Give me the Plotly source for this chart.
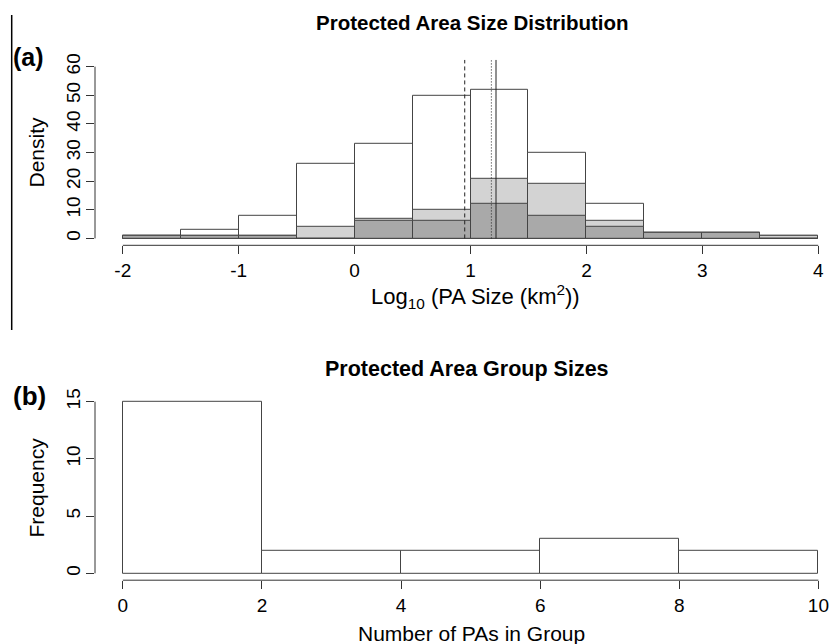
import plotly.graph_objects as go

W, H = 829, 644

# ---- Panel (a) data: PA size distribution (log10 km^2), bin width 0.5 ----
bin_left_a = [-2.0, -1.5, -1.0, -0.5, 0.0, 0.5, 1.0, 1.5, 2.0, 2.5, 3.0, 3.5]
bin_width_a = 0.5
total_a = [1, 3, 8, 26, 33, 50, 52, 30, 12, 2, 2, 1]
light_a = [1, 1, 1, 4, 7, 10, 21, 19, 6, 2, 2, 1]
dark_a = [1, 1, 1, 0, 6, 6, 12, 8, 4, 2, 2, 0]
ref_values = [0.95, 1.18, 1.22]
ref_dashes = ["4px,3px", "1px,2px", "solid"]
xticks_a = [-2, -1, 0, 1, 2, 3, 4]
yticks_a = [0, 10, 20, 30, 40, 50, 60]

# ---- Panel (b) data: PA group sizes ----
bin_left_b = [0, 2, 4, 6, 8]
bin_width_b = 2
freq_b = [15, 2, 2, 3, 2]
xticks_b = [0, 2, 4, 6, 8, 10]
yticks_b = [0, 5, 10, 15]

FONT = "Liberation Sans, Arial, Helvetica, sans-serif"
EDGE = "#444444"
AX = "#333333"

fig = go.Figure()

def centers(lefts, w):
    return [l + w / 2 for l in lefts]

for vals, col in [(total_a, "white"), (light_a, "#d3d3d3"), (dark_a, "#a9a9a9")]:
    fig.add_trace(go.Bar(
        x=centers(bin_left_a, bin_width_a), y=vals, width=bin_width_a,
        marker=dict(color=col, line=dict(color=EDGE, width=1)),
        xaxis="x", yaxis="y", showlegend=False, hoverinfo="skip"))

fig.add_trace(go.Bar(
    x=centers(bin_left_b, bin_width_b), y=freq_b, width=bin_width_b,
    marker=dict(color="white", line=dict(color=EDGE, width=1)),
    xaxis="x2", yaxis="y2", showlegend=False, hoverinfo="skip"))

ya_top = 62.4
for v, d in zip(ref_values, ref_dashes):
    fig.add_shape(type="line", xref="x", yref="y", x0=v, x1=v, y0=0, y1=ya_top,
                  line=dict(color="#222222", width=1, dash=d))

# R-style detached axis lines
fig.add_shape(type="line", xref="x", yref="y domain", x0=min(xticks_a), x1=max(xticks_a),
              y0=0, y1=0, line=dict(color=AX, width=1))
fig.add_shape(type="line", xref="x domain", yref="y", x0=0, x1=0,
              y0=min(yticks_a), y1=max(yticks_a), line=dict(color=AX, width=1))
fig.add_shape(type="line", xref="x2", yref="y2 domain", x0=min(xticks_b), x1=max(xticks_b),
              y0=0, y1=0, line=dict(color=AX, width=1))
fig.add_shape(type="line", xref="x2 domain", yref="y2", x0=0, x1=0,
              y0=min(yticks_b), y1=max(yticks_b), line=dict(color=AX, width=1))

# left border line of the figure panel
fig.add_shape(type="line", xref="paper", yref="paper", x0=11.7 / W, x1=11.7 / W,
              y0=1 - 330 / H, y1=1 - 15 / H, line=dict(color="black", width=1.5))

def px(x):
    return x / W

def py(y):
    return 1 - y / H

tickfont = dict(family=FONT, size=19, color="black")
common_x = dict(showgrid=False, zeroline=False, showline=False, ticks="outside",
                ticklen=8, tickcolor=AX, tickwidth=1, tickfont=tickfont,
                automargin=False, fixedrange=True, ticklabelstandoff=0)
common_y = dict(showgrid=False, zeroline=False, showline=False, ticks="outside",
                ticklen=8, tickcolor=AX, tickwidth=1, tickfont=tickfont,
                automargin=False, fixedrange=True, tickangle=-90, ticklabelstandoff=-2)

fig.update_layout(
    width=W, height=H,
    margin=dict(l=0, r=0, t=0, b=0),
    paper_bgcolor="white", plot_bgcolor="white",
    barmode="overlay", bargap=0,
    font=dict(family=FONT, color="black"),
    xaxis=dict(domain=[px(95), 1], range=[-2.24, -2.24 + (W - 95) / 115.9],
               tickvals=xticks_a, ticktext=[str(t) for t in xticks_a], anchor="y", **common_x),
    yaxis=dict(domain=[py(245.3), py(59.8)], range=[-2.4, ya_top],
               tickvals=yticks_a, anchor="x", **common_y),
    xaxis2=dict(domain=[px(95), 1], range=[-0.4, -0.4 + (W - 95) / 69.56],
                tickvals=xticks_b, anchor="y2", **common_x),
    yaxis2=dict(domain=[py(580.2), py(394.8)], range=[-0.6, 15.6],
                tickvals=yticks_b, anchor="x2", **common_y),
)

ann = [
    dict(text="<b>Protected Area Size Distribution</b>", x=px(472), y=py(23), size=20.5),
    dict(text="<b>Protected Area Group Sizes</b>", x=px(467), y=py(369), size=21.5),
    dict(text="<b>(a)</b>", x=px(28), y=py(57), size=25),
    dict(text="<b>(b)</b>", x=px(29), y=py(396), size=26),
    dict(text="Log<sub>10</sub> (PA Size (km<sup>2</sup>))", x=px(475), y=py(297), size=22),
    dict(text="Number of PAs in Group", x=px(471), y=py(633), size=21),
    dict(text="Density", x=px(36), y=py(152.5), size=21, angle=-90),
    dict(text="Frequency", x=px(36), y=py(487.5), size=21, angle=-90),
]
for a in ann:
    fig.add_annotation(text=a["text"], x=a["x"], y=a["y"], xref="paper", yref="paper",
                       showarrow=False, xanchor="center", yanchor="middle",
                       textangle=a.get("angle", 0),
                       font=dict(family=FONT, size=a["size"], color="black"))

fig.write_html("out.html", config={"displayModeBar": False},
               post_script="document.body.style.margin='0';")
